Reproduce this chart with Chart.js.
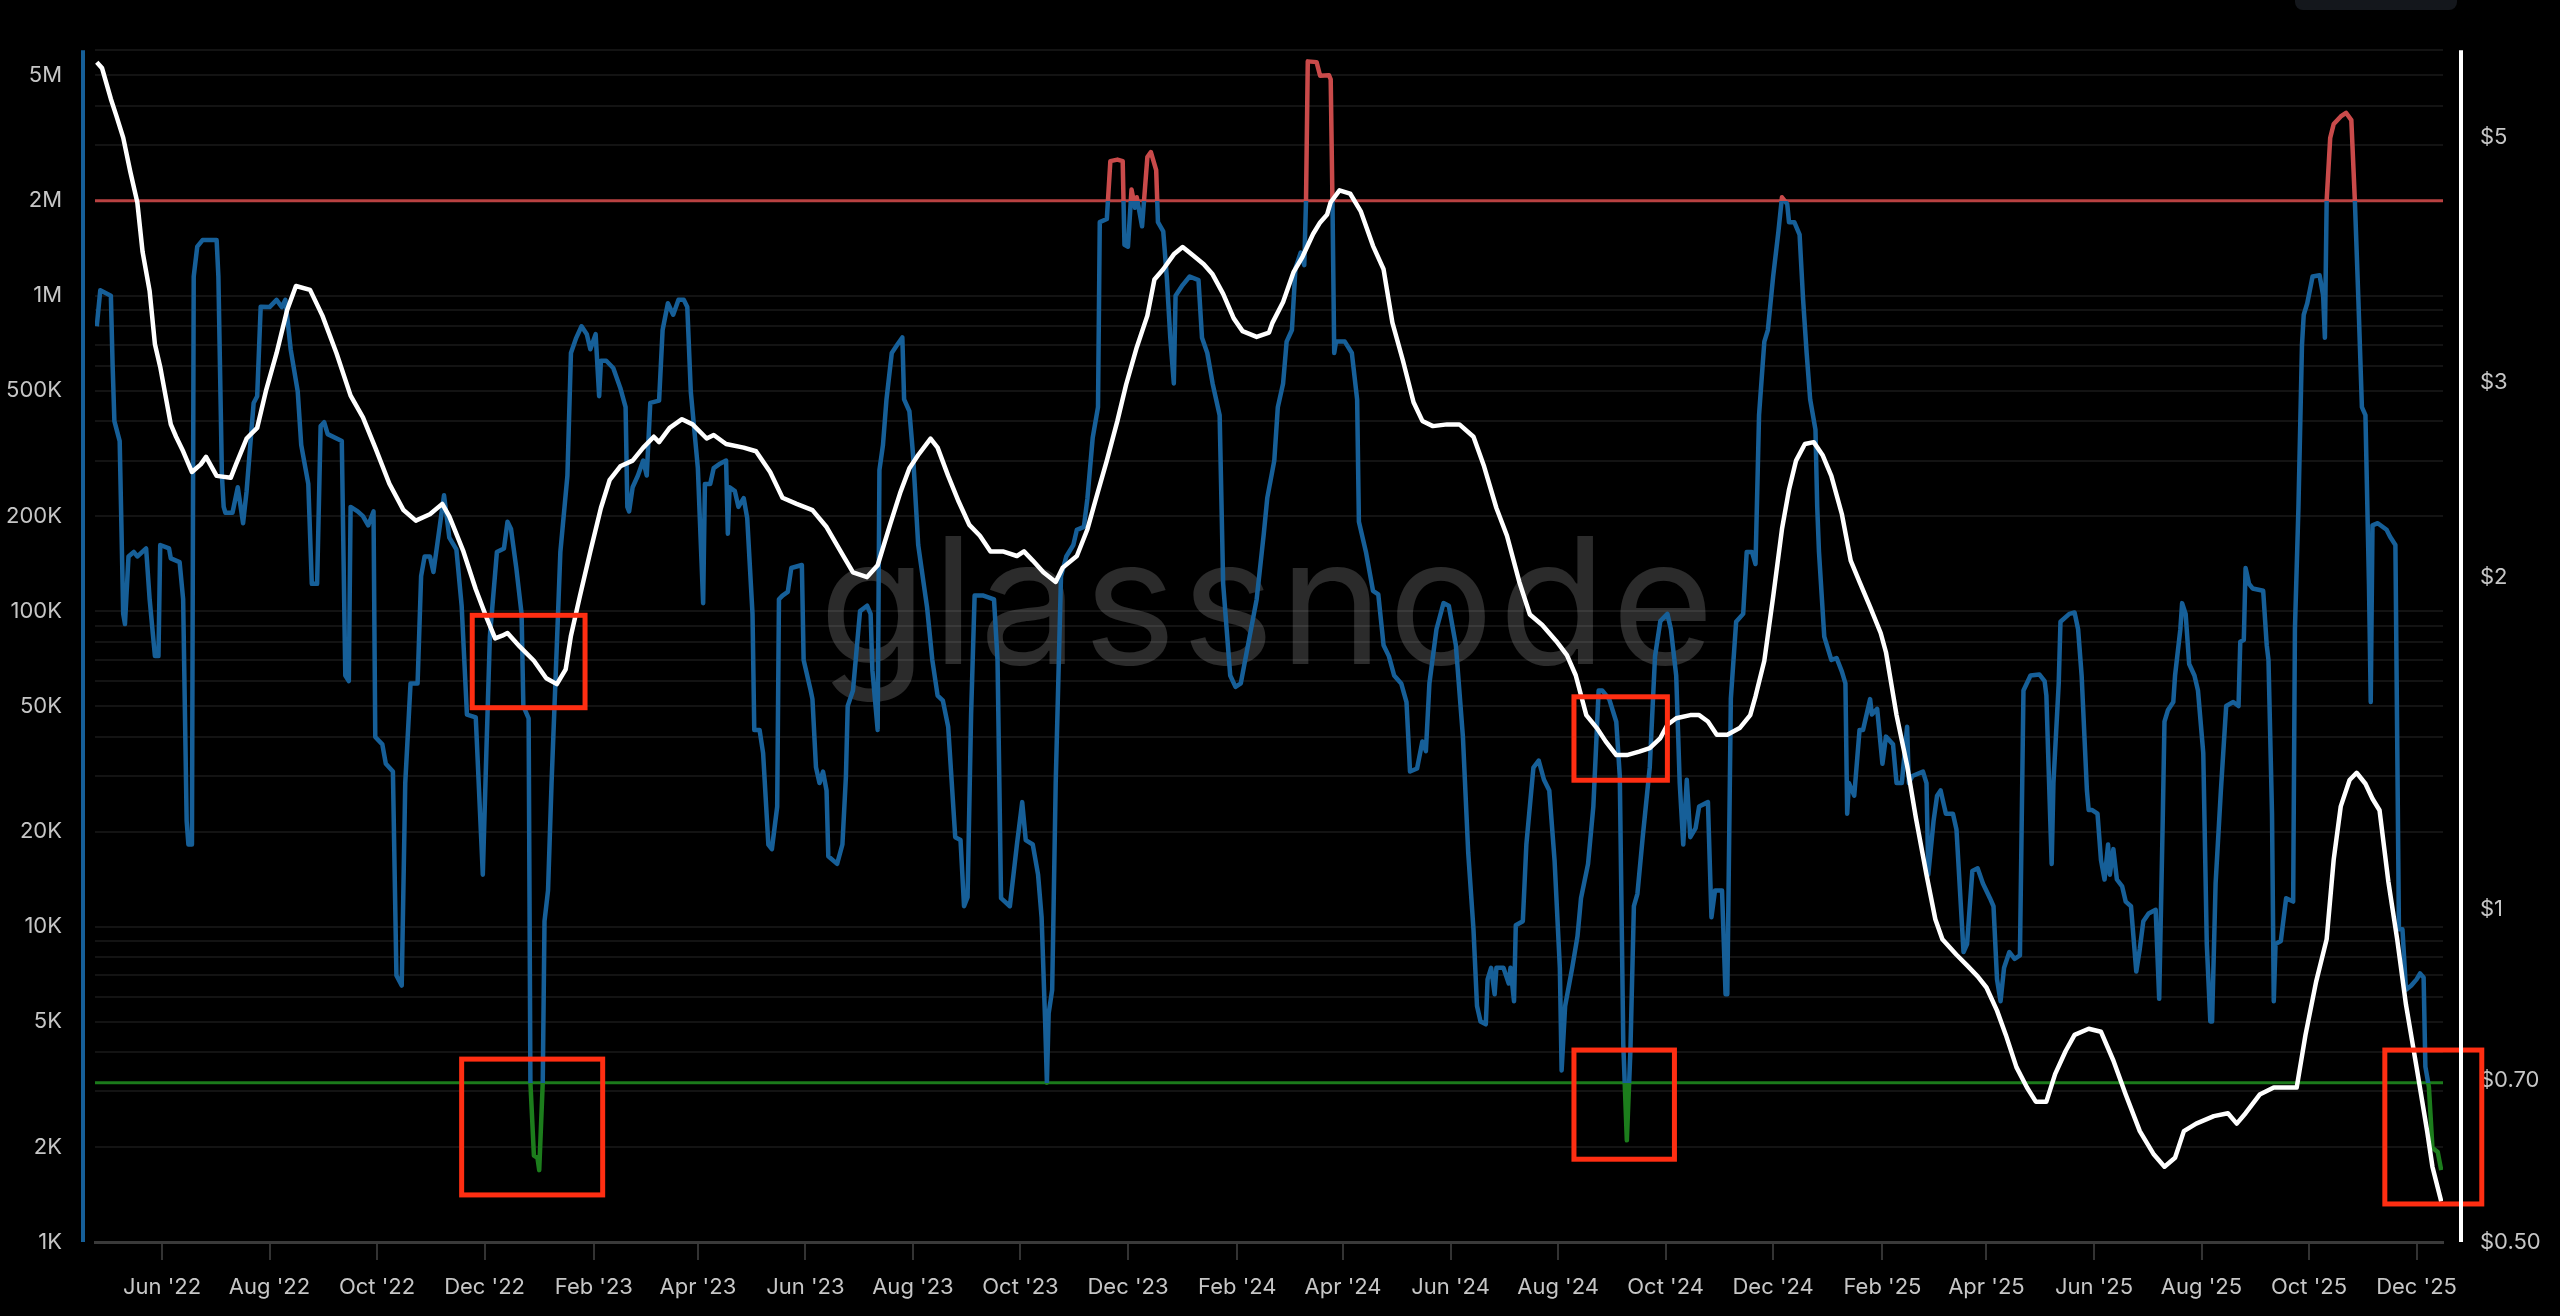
<!DOCTYPE html>
<html lang="en">
<head>
    <meta charset="UTF-8">
    <title>Supply vs Price</title>
    <script src="https://cdn.jsdelivr.net/npm/chart.js"></script>
    <style>
        html, body { margin: 0; padding: 0; background: #000; }
        canvas { display: block; }
    </style>
</head>
<body>
    <canvas id="chart" width="2560" height="1316"></canvas>

    <script>
        // x range and month ticks
        const xStart = "2022-04-24";
        const xEnd = "2025-12-16";
        const monthTicks = [
            "2022-06-01", "2022-08-01", "2022-10-01", "2022-12-01",
            "2023-02-01", "2023-04-01", "2023-06-01", "2023-08-01", "2023-10-01", "2023-12-01",
            "2024-02-01", "2024-04-01", "2024-06-01", "2024-08-01", "2024-10-01", "2024-12-01",
            "2025-02-01", "2025-04-01", "2025-06-01", "2025-08-01", "2025-10-01", "2025-12-01"
        ];
        const monthNames = ["Jan", "Feb", "Mar", "Apr", "May", "Jun", "Jul", "Aug", "Sep", "Oct", "Nov", "Dec"];

        // left axis (log) and right axis (log, $)
        const leftTickLabels = [1e3, 2e3, 5e3, 1e4, 2e4, 5e4, 1e5, 2e5, 5e5, 1e6, 2e6, 5e6];
        const rightTickLabels = [0.5, 0.7, 1, 2, 3, 5];

        // thresholds on the left axis
        const upperBand = 2000000;
        const lowerBand = 3200;

        // blue series (left axis)
        const supply = [
            ["2022-04-25", 800000], ["2022-04-27", 1040000], ["2022-05-03", 1000000], ["2022-05-04", 600000],
            ["2022-05-05", 400000], ["2022-05-08", 346000], ["2022-05-10", 98000], ["2022-05-11", 91000],
            ["2022-05-13", 149000], ["2022-05-16", 154000], ["2022-05-18", 149000], ["2022-05-23", 158000],
            ["2022-05-25", 109000], ["2022-05-28", 72000], ["2022-05-30", 72000], ["2022-05-31", 162000],
            ["2022-06-05", 158000], ["2022-06-06", 147000], ["2022-06-11", 143000], ["2022-06-13", 109000],
            ["2022-06-15", 21600], ["2022-06-16", 18200], ["2022-06-18", 18200], ["2022-06-19", 1150000],
            ["2022-06-21", 1430000], ["2022-06-24", 1500000], ["2022-07-02", 1500000], ["2022-07-03", 1150000],
            ["2022-07-05", 269000], ["2022-07-06", 214000], ["2022-07-07", 205000], ["2022-07-11", 205000],
            ["2022-07-14", 247000], ["2022-07-17", 190000], ["2022-07-19", 240000], ["2022-07-23", 457000],
            ["2022-07-25", 480000], ["2022-07-27", 923000], ["2022-08-01", 920000], ["2022-08-05", 970000],
            ["2022-08-08", 920000], ["2022-08-10", 970000], ["2022-08-13", 676000], ["2022-08-17", 497000],
            ["2022-08-19", 336000], ["2022-08-23", 253000], ["2022-08-25", 122000], ["2022-08-28", 122000],
            ["2022-08-30", 386000], ["2022-09-01", 397000], ["2022-09-03", 364000], ["2022-09-11", 346000],
            ["2022-09-13", 62500], ["2022-09-15", 60000], ["2022-09-16", 214000], ["2022-09-20", 207000],
            ["2022-09-23", 200000], ["2022-09-26", 187000], ["2022-09-29", 207000], ["2022-09-30", 39900],
            ["2022-10-04", 37800], ["2022-10-06", 32800], ["2022-10-10", 31000], ["2022-10-12", 7000],
            ["2022-10-15", 6500], ["2022-10-17", 28500], ["2022-10-20", 59000], ["2022-10-24", 59000],
            ["2022-10-26", 129000], ["2022-10-28", 149000], ["2022-10-31", 149000], ["2022-11-02", 133000],
            ["2022-11-08", 233000], ["2022-11-11", 171000], ["2022-11-15", 157000], ["2022-11-18", 104000],
            ["2022-11-21", 47000], ["2022-11-26", 46000], ["2022-11-30", 14600], ["2022-12-02", 35500],
            ["2022-12-04", 82800], ["2022-12-08", 154000], ["2022-12-12", 158000], ["2022-12-14", 192000],
            ["2022-12-16", 182000], ["2022-12-19", 137000], ["2022-12-22", 98000], ["2022-12-23", 50000],
            ["2022-12-26", 45700], ["2022-12-27", 3200], ["2022-12-29", 1880], ["2022-12-31", 1850],
            ["2023-01-01", 1690], ["2023-01-03", 3200], ["2023-01-04", 10400], ["2023-01-06", 13000],
            ["2023-01-08", 28500], ["2023-01-11", 78000], ["2023-01-13", 154000], ["2023-01-17", 269000],
            ["2023-01-19", 658000], ["2023-01-22", 735000], ["2023-01-25", 800000], ["2023-01-28", 755000],
            ["2023-01-30", 676000], ["2023-02-02", 755000], ["2023-02-04", 480000], ["2023-02-05", 622000],
            ["2023-02-08", 622000], ["2023-02-12", 590000], ["2023-02-16", 510000], ["2023-02-19", 443000],
            ["2023-02-20", 214000], ["2023-02-21", 207000], ["2023-02-23", 247000], ["2023-02-26", 269000],
            ["2023-03-01", 300000], ["2023-03-03", 269000], ["2023-03-05", 457000], ["2023-03-10", 465000],
            ["2023-03-12", 778000], ["2023-03-15", 946000], ["2023-03-18", 870000], ["2023-03-21", 970000],
            ["2023-03-24", 970000], ["2023-03-26", 920000], ["2023-03-28", 495000], ["2023-04-01", 284000],
            ["2023-04-04", 106000], ["2023-04-05", 253000], ["2023-04-08", 253000], ["2023-04-10", 284000],
            ["2023-04-13", 292000], ["2023-04-17", 300000], ["2023-04-18", 176000], ["2023-04-19", 247000],
            ["2023-04-22", 240000], ["2023-04-24", 214000], ["2023-04-27", 228000], ["2023-04-29", 197000],
            ["2023-05-02", 98000], ["2023-05-03", 42000], ["2023-05-06", 42000], ["2023-05-08", 35500],
            ["2023-05-11", 18200], ["2023-05-13", 17600], ["2023-05-16", 24000], ["2023-05-17", 109000],
            ["2023-05-19", 112000], ["2023-05-22", 115000], ["2023-05-24", 137000], ["2023-05-30", 140000],
            ["2023-05-31", 70000], ["2023-06-04", 56000], ["2023-06-05", 52600], ["2023-06-07", 32000],
            ["2023-06-09", 28500], ["2023-06-11", 31000], ["2023-06-13", 27000], ["2023-06-14", 16700],
            ["2023-06-19", 15800], ["2023-06-22", 18200], ["2023-06-24", 30000], ["2023-06-25", 50000],
            ["2023-06-28", 56000], ["2023-07-02", 100000], ["2023-07-06", 104000], ["2023-07-08", 98000],
            ["2023-07-09", 65000], ["2023-07-12", 42000], ["2023-07-13", 280000], ["2023-07-15", 336000],
            ["2023-07-17", 469000], ["2023-07-20", 658000], ["2023-07-23", 697000], ["2023-07-26", 737000],
            ["2023-07-27", 469000], ["2023-07-30", 430000], ["2023-08-01", 317000], ["2023-08-04", 162000],
            ["2023-08-09", 103000], ["2023-08-12", 70000], ["2023-08-15", 54000], ["2023-08-18", 52000],
            ["2023-08-21", 43000], ["2023-08-25", 19200], ["2023-08-28", 18800], ["2023-08-30", 11600],
            ["2023-09-01", 12400], ["2023-09-03", 47000], ["2023-09-05", 112000], ["2023-09-10", 112000],
            ["2023-09-16", 109000], ["2023-09-18", 70000], ["2023-09-20", 12300], ["2023-09-25", 11600],
            ["2023-09-29", 18200], ["2023-10-02", 24800], ["2023-10-04", 18800], ["2023-10-08", 18200],
            ["2023-10-11", 14600], ["2023-10-13", 10700], ["2023-10-15", 5000], ["2023-10-16", 3200],
            ["2023-10-17", 5300], ["2023-10-19", 6300], ["2023-10-21", 28500], ["2023-10-24", 129000],
            ["2023-10-27", 149000], ["2023-10-31", 162000], ["2023-11-02", 181000], ["2023-11-06", 185000],
            ["2023-11-08", 228000], ["2023-11-11", 355000], ["2023-11-14", 443000], ["2023-11-15", 1710000],
            ["2023-11-19", 1750000], ["2023-11-21", 2670000], ["2023-11-25", 2700000], ["2023-11-28", 2670000],
            ["2023-11-29", 1450000], ["2023-12-01", 1430000], ["2023-12-03", 2170000], ["2023-12-05", 1900000],
            ["2023-12-06", 2050000], ["2023-12-09", 1660000], ["2023-12-12", 2750000], ["2023-12-14", 2850000],
            ["2023-12-17", 2500000], ["2023-12-18", 1710000], ["2023-12-21", 1600000], ["2023-12-23", 1150000],
            ["2023-12-25", 735000], ["2023-12-27", 527000], ["2023-12-28", 1000000], ["2024-01-01", 1080000],
            ["2024-01-05", 1150000], ["2024-01-10", 1120000], ["2024-01-12", 735000], ["2024-01-15", 658000],
            ["2024-01-18", 527000], ["2024-01-22", 418000], ["2024-01-24", 122000], ["2024-01-28", 62500],
            ["2024-01-31", 57500], ["2024-02-03", 59000], ["2024-02-08", 83000], ["2024-02-12", 109000],
            ["2024-02-16", 175000], ["2024-02-18", 228000], ["2024-02-22", 300000], ["2024-02-24", 443000],
            ["2024-02-27", 527000], ["2024-02-29", 715000], ["2024-03-03", 778000], ["2024-03-05", 1220000],
            ["2024-03-08", 1370000], ["2024-03-10", 1250000], ["2024-03-11", 2000000], ["2024-03-12", 5530000],
            ["2024-03-17", 5500000], ["2024-03-19", 4980000], ["2024-03-24", 5000000], ["2024-03-25", 4850000],
            ["2024-03-26", 2000000], ["2024-03-27", 658000], ["2024-03-28", 715000], ["2024-04-02", 715000],
            ["2024-04-06", 658000], ["2024-04-09", 469000], ["2024-04-10", 192000], ["2024-04-14", 154000],
            ["2024-04-18", 116000], ["2024-04-21", 113000], ["2024-04-24", 78000], ["2024-04-27", 72000],
            ["2024-04-30", 62500], ["2024-05-04", 59000], ["2024-05-07", 51500], ["2024-05-09", 31000],
            ["2024-05-13", 31700], ["2024-05-16", 38600], ["2024-05-18", 36000], ["2024-05-20", 59000],
            ["2024-05-24", 87600], ["2024-05-28", 106000], ["2024-05-31", 104000], ["2024-06-04", 78000],
            ["2024-06-08", 40000], ["2024-06-11", 17200], ["2024-06-14", 9800], ["2024-06-16", 5600],
            ["2024-06-18", 5000], ["2024-06-21", 4900], ["2024-06-22", 6800], ["2024-06-24", 7400],
            ["2024-06-26", 6100], ["2024-06-27", 7400], ["2024-07-01", 7400], ["2024-07-04", 6600],
            ["2024-07-05", 7400], ["2024-07-07", 5800], ["2024-07-08", 10100], ["2024-07-12", 10400],
            ["2024-07-14", 18200], ["2024-07-18", 31900], ["2024-07-21", 33600], ["2024-07-24", 29200],
            ["2024-07-27", 27000], ["2024-07-30", 16200], ["2024-08-02", 7400], ["2024-08-03", 3500],
            ["2024-08-05", 5600], ["2024-08-09", 7400], ["2024-08-12", 9300], ["2024-08-14", 12300],
            ["2024-08-18", 15800], ["2024-08-21", 24000], ["2024-08-24", 56000], ["2024-08-26", 56000],
            ["2024-08-30", 52600], ["2024-09-03", 44600], ["2024-09-05", 30000], ["2024-09-07", 4200],
            ["2024-09-09", 2100], ["2024-09-11", 4000], ["2024-09-13", 11600], ["2024-09-15", 12700],
            ["2024-09-18", 19200], ["2024-09-22", 32000], ["2024-09-25", 72000], ["2024-09-28", 93000],
            ["2024-10-02", 98000], ["2024-10-04", 87600], ["2024-10-07", 62500], ["2024-10-09", 28500],
            ["2024-10-11", 18200], ["2024-10-13", 29200], ["2024-10-15", 19200], ["2024-10-18", 20500],
            ["2024-10-20", 24000], ["2024-10-25", 24800], ["2024-10-27", 10700], ["2024-10-29", 13000],
            ["2024-11-02", 13000], ["2024-11-04", 6100], ["2024-11-05", 6100], ["2024-11-07", 52800],
            ["2024-11-10", 92500], ["2024-11-14", 98000], ["2024-11-16", 154000], ["2024-11-19", 154000],
            ["2024-11-21", 141000], ["2024-11-23", 418000], ["2024-11-26", 715000], ["2024-11-28", 778000],
            ["2024-12-01", 1150000], ["2024-12-04", 1600000], ["2024-12-06", 2050000], ["2024-12-09", 1950000],
            ["2024-12-10", 1710000], ["2024-12-13", 1710000], ["2024-12-16", 1560000], ["2024-12-18", 970000],
            ["2024-12-20", 658000], ["2024-12-22", 469000], ["2024-12-25", 376000], ["2024-12-26", 214000],
            ["2024-12-27", 154000], ["2024-12-30", 83000], ["2025-01-03", 70000], ["2025-01-06", 71000],
            ["2025-01-09", 64300], ["2025-01-11", 59000], ["2025-01-12", 22800], ["2025-01-13", 28500],
            ["2025-01-16", 26000], ["2025-01-19", 42000], ["2025-01-21", 42000], ["2025-01-25", 52600],
            ["2025-01-26", 47000], ["2025-01-29", 49000], ["2025-02-01", 32800], ["2025-02-03", 40000],
            ["2025-02-07", 37800], ["2025-02-09", 28500], ["2025-02-12", 28500], ["2025-02-15", 43000],
            ["2025-02-16", 28500], ["2025-02-18", 30000], ["2025-02-24", 31000], ["2025-02-26", 28500],
            ["2025-02-27", 14600], ["2025-03-02", 21600], ["2025-03-04", 26000], ["2025-03-06", 27000],
            ["2025-03-09", 22800], ["2025-03-13", 22800], ["2025-03-15", 20300], ["2025-03-19", 8300],
            ["2025-03-21", 8800], ["2025-03-24", 15000], ["2025-03-27", 15300], ["2025-03-30", 13700],
            ["2025-04-03", 12300], ["2025-04-05", 11600], ["2025-04-07", 6800], ["2025-04-09", 5800],
            ["2025-04-11", 7400], ["2025-04-14", 8300], ["2025-04-17", 7900], ["2025-04-20", 8100],
            ["2025-04-22", 56000], ["2025-04-26", 62500], ["2025-05-01", 63000], ["2025-05-04", 60000],
            ["2025-05-05", 54000], ["2025-05-06", 35500], ["2025-05-08", 15800], ["2025-05-09", 28500],
            ["2025-05-12", 59000], ["2025-05-13", 92500], ["2025-05-18", 98000], ["2025-05-21", 99000],
            ["2025-05-23", 87600], ["2025-05-25", 62500], ["2025-05-28", 27000], ["2025-05-29", 23400],
            ["2025-05-31", 23400], ["2025-06-03", 22800], ["2025-06-05", 16200], ["2025-06-07", 14100],
            ["2025-06-09", 18200], ["2025-06-10", 14600], ["2025-06-12", 17600], ["2025-06-14", 14100],
            ["2025-06-17", 13400], ["2025-06-19", 12000], ["2025-06-22", 11600], ["2025-06-25", 7200],
            ["2025-06-27", 8500], ["2025-06-29", 10400], ["2025-07-02", 11000], ["2025-07-06", 11300],
            ["2025-07-08", 5900], ["2025-07-10", 21600], ["2025-07-11", 44600], ["2025-07-13", 48600],
            ["2025-07-16", 51500], ["2025-07-17", 62500], ["2025-07-20", 87600], ["2025-07-21", 106000],
            ["2025-07-23", 98000], ["2025-07-25", 68000], ["2025-07-28", 62500], ["2025-07-30", 56000],
            ["2025-08-02", 35500], ["2025-08-04", 8800], ["2025-08-06", 5000], ["2025-08-07", 5000],
            ["2025-08-09", 13700], ["2025-08-12", 27000], ["2025-08-15", 50000], ["2025-08-19", 51500],
            ["2025-08-22", 50000], ["2025-08-23", 80000], ["2025-08-25", 81000], ["2025-08-26", 137000],
            ["2025-08-28", 122000], ["2025-08-30", 118000], ["2025-09-05", 116000], ["2025-09-07", 78000],
            ["2025-09-08", 70000], ["2025-09-10", 22800], ["2025-09-11", 5800], ["2025-09-12", 8800],
            ["2025-09-15", 9000], ["2025-09-18", 12300], ["2025-09-22", 12000], ["2025-09-23", 87600],
            ["2025-09-25", 214000], ["2025-09-27", 697000], ["2025-09-28", 870000], ["2025-09-30", 946000],
            ["2025-10-03", 1150000], ["2025-10-07", 1160000], ["2025-10-09", 1000000], ["2025-10-10", 735000],
            ["2025-10-11", 2000000], ["2025-10-13", 3160000], ["2025-10-15", 3500000], ["2025-10-17", 3600000],
            ["2025-10-19", 3700000], ["2025-10-22", 3800000], ["2025-10-25", 3600000], ["2025-10-27", 2000000],
            ["2025-10-29", 970000], ["2025-10-31", 443000], ["2025-11-02", 418000], ["2025-11-04", 122000],
            ["2025-11-05", 51500], ["2025-11-06", 187000], ["2025-11-09", 190000], ["2025-11-14", 181000],
            ["2025-11-16", 172000], ["2025-11-19", 162000], ["2025-11-20", 40000], ["2025-11-21", 9800],
            ["2025-11-23", 9800], ["2025-11-25", 6300], ["2025-11-28", 6500], ["2025-12-01", 6800],
            ["2025-12-03", 7100], ["2025-12-05", 6900], ["2025-12-06", 3600], ["2025-12-08", 3100],
            ["2025-12-10", 1990], ["2025-12-13", 1930], ["2025-12-15", 1690]
        ];

        // white series (right axis, USD)
        const price = [
            ["2022-04-25", 5.85], ["2022-04-28", 5.78], ["2022-05-03", 5.42], ["2022-05-06", 5.24],
            ["2022-05-10", 5.0], ["2022-05-14", 4.66], ["2022-05-18", 4.37], ["2022-05-21", 3.94],
            ["2022-05-25", 3.63], ["2022-05-28", 3.25], ["2022-05-31", 3.10], ["2022-06-06", 2.75],
            ["2022-06-09", 2.68], ["2022-06-13", 2.60], ["2022-06-18", 2.49], ["2022-06-23", 2.53],
            ["2022-06-26", 2.57], ["2022-07-02", 2.47], ["2022-07-10", 2.46], ["2022-07-13", 2.53],
            ["2022-07-19", 2.67], ["2022-07-25", 2.73], ["2022-07-30", 2.95], ["2022-08-05", 3.19],
            ["2022-08-11", 3.49], ["2022-08-16", 3.67], ["2022-08-24", 3.64], ["2022-08-31", 3.45],
            ["2022-09-08", 3.19], ["2022-09-16", 2.92], ["2022-09-23", 2.79], ["2022-09-30", 2.62],
            ["2022-10-08", 2.43], ["2022-10-16", 2.30], ["2022-10-23", 2.25], ["2022-10-31", 2.28],
            ["2022-11-07", 2.33], ["2022-11-11", 2.27], ["2022-11-19", 2.11], ["2022-11-26", 1.95],
            ["2022-12-02", 1.84], ["2022-12-07", 1.76], ["2022-12-11", 1.77], ["2022-12-14", 1.78],
            ["2022-12-21", 1.73], ["2022-12-29", 1.68], ["2023-01-05", 1.62], ["2023-01-11", 1.60],
            ["2023-01-16", 1.65], ["2023-01-19", 1.77], ["2023-01-24", 1.92], ["2023-01-30", 2.11],
            ["2023-02-05", 2.31], ["2023-02-10", 2.45], ["2023-02-16", 2.52], ["2023-02-23", 2.55],
            ["2023-03-01", 2.62], ["2023-03-07", 2.68], ["2023-03-10", 2.65], ["2023-03-16", 2.73],
            ["2023-03-23", 2.78], ["2023-03-29", 2.75], ["2023-04-06", 2.67], ["2023-04-10", 2.69],
            ["2023-04-17", 2.64], ["2023-04-27", 2.62], ["2023-05-04", 2.60], ["2023-05-12", 2.49],
            ["2023-05-19", 2.36], ["2023-05-27", 2.33], ["2023-06-05", 2.30], ["2023-06-13", 2.22],
            ["2023-06-21", 2.11], ["2023-06-28", 2.02], ["2023-07-06", 2.00], ["2023-07-12", 2.05],
            ["2023-07-19", 2.23], ["2023-07-25", 2.39], ["2023-07-30", 2.51], ["2023-08-04", 2.58],
            ["2023-08-11", 2.67], ["2023-08-15", 2.62], ["2023-08-21", 2.47], ["2023-08-27", 2.34],
            ["2023-09-02", 2.23], ["2023-09-08", 2.18], ["2023-09-14", 2.11], ["2023-09-21", 2.11],
            ["2023-09-29", 2.09], ["2023-10-03", 2.11], ["2023-10-08", 2.07], ["2023-10-14", 2.02],
            ["2023-10-21", 1.98], ["2023-10-25", 2.04], ["2023-11-02", 2.09], ["2023-11-08", 2.21],
            ["2023-11-13", 2.36], ["2023-11-19", 2.55], ["2023-11-25", 2.77], ["2023-11-30", 2.99],
            ["2023-12-06", 3.23], ["2023-12-12", 3.45], ["2023-12-16", 3.72], ["2023-12-21", 3.80],
            ["2023-12-27", 3.92], ["2024-01-01", 3.98], ["2024-01-07", 3.91], ["2024-01-13", 3.84],
            ["2024-01-18", 3.76], ["2024-01-24", 3.61], ["2024-01-30", 3.43], ["2024-02-04", 3.34],
            ["2024-02-12", 3.30], ["2024-02-19", 3.33], ["2024-02-21", 3.40], ["2024-02-27", 3.55],
            ["2024-03-04", 3.78], ["2024-03-09", 3.90], ["2024-03-15", 4.09], ["2024-03-19", 4.19],
            ["2024-03-23", 4.26], ["2024-03-25", 4.37], ["2024-03-30", 4.48], ["2024-04-05", 4.45],
            ["2024-04-11", 4.29], ["2024-04-18", 3.99], ["2024-04-24", 3.80], ["2024-04-29", 3.40],
            ["2024-05-05", 3.14], ["2024-05-11", 2.88], ["2024-05-16", 2.77], ["2024-05-22", 2.74],
            ["2024-05-30", 2.75], ["2024-06-06", 2.75], ["2024-06-14", 2.68], ["2024-06-20", 2.52],
            ["2024-06-27", 2.31], ["2024-07-03", 2.18], ["2024-07-10", 1.98], ["2024-07-16", 1.85],
            ["2024-07-23", 1.81], ["2024-07-31", 1.75], ["2024-08-06", 1.70], ["2024-08-11", 1.63],
            ["2024-08-17", 1.50], ["2024-08-23", 1.46], ["2024-08-28", 1.42], ["2024-09-03", 1.38],
            ["2024-09-09", 1.38], ["2024-09-16", 1.39], ["2024-09-22", 1.40], ["2024-09-28", 1.43],
            ["2024-10-02", 1.47], ["2024-10-07", 1.49], ["2024-10-15", 1.50], ["2024-10-20", 1.50],
            ["2024-10-25", 1.48], ["2024-10-30", 1.44], ["2024-11-05", 1.44], ["2024-11-12", 1.46],
            ["2024-11-18", 1.50], ["2024-11-21", 1.56], ["2024-11-26", 1.68], ["2024-12-01", 1.92],
            ["2024-12-06", 2.21], ["2024-12-10", 2.40], ["2024-12-14", 2.55], ["2024-12-19", 2.64],
            ["2024-12-24", 2.65], ["2024-12-29", 2.58], ["2025-01-03", 2.47], ["2025-01-09", 2.28],
            ["2025-01-14", 2.07], ["2025-01-19", 1.98], ["2025-01-25", 1.88], ["2025-01-31", 1.78],
            ["2025-02-03", 1.71], ["2025-02-09", 1.50], ["2025-02-15", 1.35], ["2025-02-20", 1.21],
            ["2025-02-26", 1.075], ["2025-03-03", 0.98], ["2025-03-07", 0.94], ["2025-03-15", 0.91],
            ["2025-03-21", 0.89], ["2025-03-27", 0.87], ["2025-04-01", 0.85], ["2025-04-07", 0.81],
            ["2025-04-12", 0.77], ["2025-04-18", 0.72], ["2025-04-24", 0.69], ["2025-04-29", 0.67],
            ["2025-05-05", 0.67], ["2025-05-10", 0.71], ["2025-05-16", 0.745], ["2025-05-21", 0.77],
            ["2025-05-29", 0.78], ["2025-06-05", 0.775], ["2025-06-12", 0.73], ["2025-06-19", 0.68],
            ["2025-06-27", 0.63], ["2025-07-05", 0.60], ["2025-07-11", 0.585], ["2025-07-17", 0.596],
            ["2025-07-22", 0.63], ["2025-07-29", 0.64], ["2025-08-08", 0.65], ["2025-08-16", 0.654],
            ["2025-08-21", 0.64], ["2025-08-26", 0.654], ["2025-09-03", 0.68], ["2025-09-11", 0.69],
            ["2025-09-18", 0.69], ["2025-09-24", 0.69], ["2025-09-29", 0.77], ["2025-10-05", 0.86],
            ["2025-10-11", 0.94], ["2025-10-15", 1.11], ["2025-10-19", 1.24], ["2025-10-24", 1.31],
            ["2025-10-28", 1.33], ["2025-11-02", 1.30], ["2025-11-06", 1.26], ["2025-11-10", 1.23],
            ["2025-11-15", 1.06], ["2025-11-20", 0.94], ["2025-11-25", 0.82], ["2025-12-01", 0.72],
            ["2025-12-07", 0.63], ["2025-12-10", 0.585], ["2025-12-15", 0.544]
        ];

        // highlight boxes: [from, to, top value, bottom value] on the left axis
        const boxes = [
            ["2022-11-24", "2023-01-27", 97000, 49400],
            ["2022-11-18", "2023-02-06", 3800, 1410],
            ["2024-08-10", "2024-10-02", 53500, 29100],
            ["2024-08-10", "2024-10-06", 4060, 1830],
            ["2025-11-13", "2026-01-07", 4060, 1320]
        ];

        const BLUE = "#165f98";
        const RED = "#c94a4a";
        const GREEN = "#1c7d1c";
        const LABEL = "#c6c6c6";
        const FONT = { family: "Inter, 'Noto Sans', sans-serif", size: 22 };

        const toXY = rows => rows.map(r => ({ x: Date.parse(r[0]), y: r[1] }));
        const xMin = Date.parse(xStart);
        const xMax = Date.parse(xEnd);

        function logGrid(min, max) {
            const out = [];
            for (let e = 0; e <= 7; e++) {
                for (let m = 1; m <= 9; m++) {
                    const v = m * Math.pow(10, e);
                    if (v >= min && v <= max) out.push(v);
                }
            }
            return out;
        }

        function shortNum(v) {
            if (v >= 1e6) return (v / 1e6) + "M";
            if (v >= 1e3) return (v / 1e3) + "K";
            return String(v);
        }

        // blue line switches colour above / below the bands
        function bandGradient(context) {
            const chart = context.chart;
            const area = chart.chartArea;
            if (!area) return BLUE;
            const y = chart.scales.y;
            const h = area.bottom - area.top;
            const p1 = Math.min(Math.max((y.getPixelForValue(upperBand) - area.top) / h, 0), 1);
            const p2 = Math.min(Math.max((y.getPixelForValue(lowerBand) - area.top) / h, 0), 1);
            const g = chart.ctx.createLinearGradient(0, area.top, 0, area.bottom);
            g.addColorStop(0, RED);
            g.addColorStop(p1, RED);
            g.addColorStop(p1, BLUE);
            g.addColorStop(p2, BLUE);
            g.addColorStop(p2, GREEN);
            g.addColorStop(1, GREEN);
            return g;
        }

        const decor = {
            id: "decor",
            beforeDatasetsDraw(chart) {
                const { ctx, chartArea } = chart;
                ctx.save();
                ctx.font = "400 176px Inter, 'Noto Sans', sans-serif";
                ctx.letterSpacing = "5px";
                ctx.fillStyle = "rgba(255,255,255,0.17)";
                ctx.textAlign = "center";
                ctx.textBaseline = "alphabetic";
                const cx = (chartArea.left + chartArea.right) / 2;
                const cy = (chartArea.top + chartArea.bottom) / 2 + 18;
                ctx.fillText("glassnode", cx, cy);
                ctx.restore();
            },
            afterDraw(chart) {
                const { ctx, chartArea } = chart;
                const x = chart.scales.x, y = chart.scales.y;
                ctx.save();
                // highlight boxes
                ctx.strokeStyle = "#ff2e12";
                ctx.lineWidth = 5;
                boxes.forEach(b => {
                    const x0 = x.getPixelForValue(Date.parse(b[0]));
                    const x1 = x.getPixelForValue(Date.parse(b[1]));
                    const y0 = y.getPixelForValue(b[2]);
                    const y1 = y.getPixelForValue(b[3]);
                    ctx.strokeRect(x0, y0, x1 - x0, y1 - y0);
                });
                // axis lines, set off from the plot
                ctx.lineWidth = 4;
                ctx.strokeStyle = BLUE;
                ctx.beginPath();
                ctx.moveTo(chartArea.left - 12, chartArea.top);
                ctx.lineTo(chartArea.left - 12, chartArea.bottom);
                ctx.stroke();
                ctx.strokeStyle = "#ffffff";
                ctx.beginPath();
                ctx.moveTo(chartArea.right + 18, chartArea.top);
                ctx.lineTo(chartArea.right + 18, chartArea.bottom);
                ctx.stroke();
                // toolbar pill at the top edge
                ctx.fillStyle = "#14171c";
                ctx.beginPath();
                ctx.roundRect(chart.width - 265, -12, 162, 22, 8);
                ctx.fill();
                ctx.restore();
            }
        };

        new Chart(document.getElementById("chart"), {
            type: "line",
            data: {
                datasets: [
                    {
                        label: "Price",
                        data: toXY(price),
                        yAxisID: "y1",
                        borderColor: "#ffffff",
                        borderWidth: 4.5,
                        pointRadius: 0,
                        tension: 0,
                        borderJoinStyle: "round",
                        order: 0
                    },
                    {
                        label: "Supply",
                        data: toXY(supply),
                        yAxisID: "y",
                        borderColor: bandGradient,
                        borderWidth: 4.5,
                        pointRadius: 0,
                        tension: 0,
                        borderJoinStyle: "round",
                        order: 1
                    },
                    {
                        label: "Upper band",
                        data: [{ x: xMin, y: upperBand }, { x: xMax, y: upperBand }],
                        yAxisID: "y",
                        borderColor: "#b94242",
                        borderWidth: 3,
                        pointRadius: 0,
                        order: 2
                    },
                    {
                        label: "Lower band",
                        data: [{ x: xMin, y: lowerBand }, { x: xMax, y: lowerBand }],
                        yAxisID: "y",
                        borderColor: "#1b7a1b",
                        borderWidth: 3,
                        pointRadius: 0,
                        order: 2
                    }
                ]
            },
            options: {
                responsive: false,
                animation: false,
                devicePixelRatio: 1,
                layout: { padding: { top: 44, left: 0, right: 0, bottom: 0 } },
                plugins: {
                    legend: { display: false },
                    tooltip: { enabled: false }
                },
                scales: {
                    x: {
                        type: "linear",
                        min: xMin,
                        max: xMax,
                        afterBuildTicks: s => { s.ticks = monthTicks.map(d => ({ value: Date.parse(d) })); },
                        afterFit: s => { s.height = 74; },
                        ticks: {
                            autoSkip: false,
                            maxRotation: 0,
                            padding: 14,
                            color: LABEL,
                            font: FONT,
                            callback: v => {
                                const d = new Date(v);
                                return monthNames[d.getUTCMonth()] + " '" + String(d.getUTCFullYear()).slice(2);
                            }
                        },
                        grid: { drawOnChartArea: false, drawTicks: true, tickLength: 18, color: "#333333", lineWidth: 2 },
                        border: { display: true, color: "#3a3a3a", width: 3 }
                    },
                    y: {
                        type: "logarithmic",
                        position: "left",
                        min: 1000,
                        max: 6000000,
                        afterBuildTicks: s => { s.ticks = logGrid(1000, 6000000).map(v => ({ value: v })); },
                        afterFit: s => { s.width = 95; },
                        ticks: {
                            autoSkip: false,
                            padding: 33,
                            color: LABEL,
                            font: FONT,
                            callback: v => leftTickLabels.includes(v) ? shortNum(v) : ""
                        },
                        grid: { color: "rgba(255,255,255,0.075)", lineWidth: 2, drawTicks: false, tickLength: 0 },
                        border: { display: false }
                    },
                    y1: {
                        type: "logarithmic",
                        position: "right",
                        min: 0.5,
                        max: 6,
                        afterBuildTicks: s => { s.ticks = rightTickLabels.map(v => ({ value: v })); },
                        afterFit: s => { s.width = 117; },
                        ticks: {
                            autoSkip: false,
                            padding: 37,
                            color: LABEL,
                            font: FONT,
                            callback: v => v < 1 ? "$" + v.toFixed(2) : "$" + v
                        },
                        grid: { drawOnChartArea: false, drawTicks: false, tickLength: 0 },
                        border: { display: false }
                    }
                }
            },
            plugins: [decor]
        });
    </script>
</body>
</html>
